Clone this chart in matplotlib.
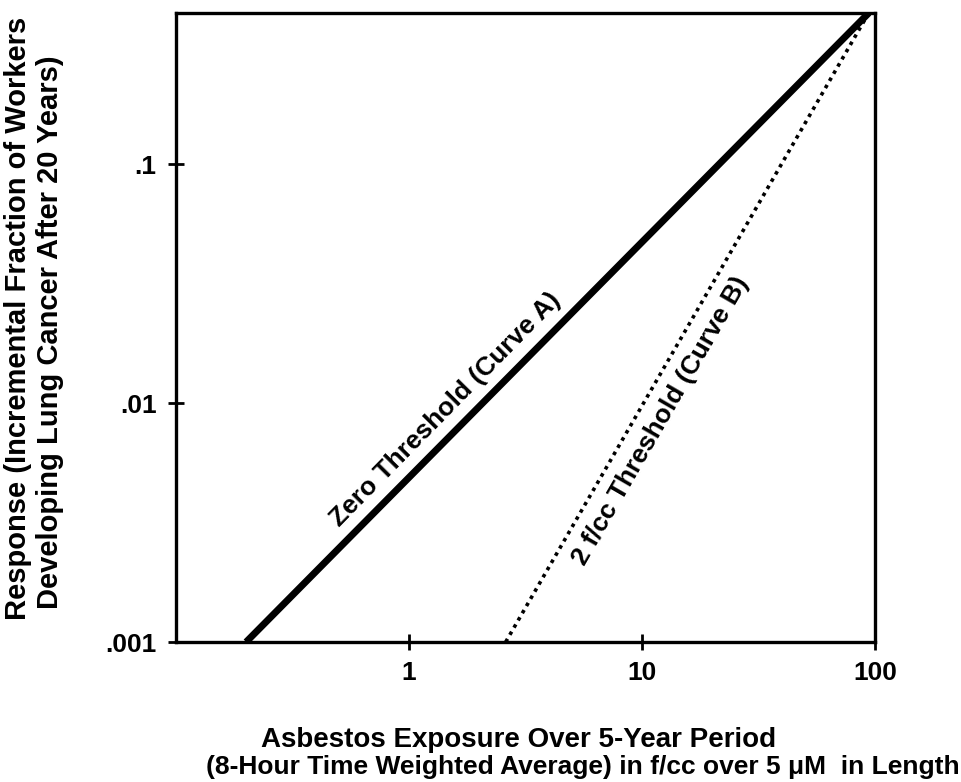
#used imports
from matplotlib import pyplot as plt
import numpy as np

plt.rcParams['font.family'] = ['Liberation Sans', 'DejaVu Sans']
plt.rcParams['font.weight'] = 'bold'

#end points of the two dose-response lines (straight on log-log axes)
curve_a_x = [0.2, 94]
curve_a_y = [0.001, 0.43]
curve_b_x = [2.6, 92]
curve_b_y = [0.001, 0.415]

x_ticks = [1, 10, 100]
x_tick_labels = ["1", "10", "100"]
y_ticks = [0.001, 0.01, 0.1]
y_tick_labels = [".001", ".01", ".1"]

fig = plt.figure(figsize=(9.61, 7.82), dpi=100)
ax = fig.add_axes([176/961, 1-642/782, 699/961, 629/782])

ax.plot(curve_a_x, curve_a_y, color='black', linewidth=5, solid_capstyle='butt')
ax.plot(curve_b_x, curve_b_y, color='black', linewidth=2.6, linestyle=(0, (1, 1.3)))

ax.set_xscale('log')
ax.set_yscale('log')
ax.set_xlim(0.1, 100)
ax.set_ylim(0.001, 0.43)

ax.set_xticks(x_ticks)
ax.set_xticklabels(x_tick_labels)
ax.set_yticks(y_ticks)
ax.set_yticklabels(y_tick_labels)
ax.minorticks_off()
ax.tick_params(direction='inout', length=12, width=2, labelsize=19)
ax.tick_params(axis='x', pad=8)
ax.tick_params(axis='y', pad=8)
for s in ax.spines.values():
    s.set_linewidth(2.4)

#curve labels along the lines
ax.text(1.44, 0.0094, "Zero Threshold (Curve A)", rotation=45.5, ha='center', va='center',
        fontsize=19, fontweight='bold')
ax.text(12.0, 0.0084, "2 f/cc Threshold (Curve B)", rotation=60, ha='center', va='center',
        fontsize=19, fontweight='bold')

#axis titles placed as figure text
fig.text(519/961, 1-740/782, "Asbestos Exposure Over 5-Year Period",
         ha='center', va='center', fontsize=20, fontweight='bold')
fig.text(583/961, 1-767/782, "(8-Hour Time Weighted Average) in f/cc over 5 \u03bcM  in Length",
         ha='center', va='center', fontsize=19, fontweight='bold')
fig.text(18/961, 1-318/782, "Response (Incremental Fraction of Workers",
         rotation=90, ha='center', va='center', fontsize=21, fontweight='bold')
fig.text(50/961, 1-332/782, "Developing Lung Cancer After 20 Years)",
         rotation=90, ha='center', va='center', fontsize=21, fontweight='bold')

plt.savefig('out.png', dpi=100)
